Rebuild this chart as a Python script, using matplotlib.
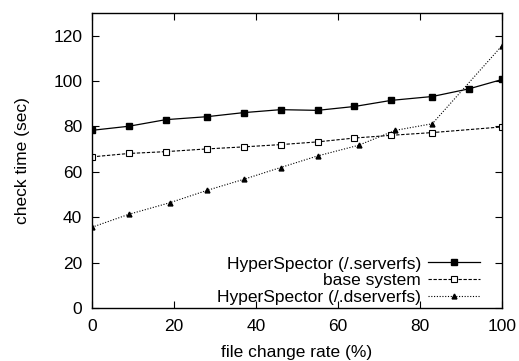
import matplotlib
matplotlib.use("Agg")
import matplotlib.pyplot as plt

# ── data ──
X_SERVERFS	= [0, 9, 18, 28, 37, 46, 55, 64, 73, 83, 92, 100]
Y_SERVERFS	= [78.3, 80.1, 83.0, 84.3, 86.1, 87.4, 87.1, 88.8, 91.5, 93.2, 96.6, 100.7]

X_BASE		= [0, 9, 18, 28, 37, 46, 55, 64, 73, 83, 100]
Y_BASE		= [66.6, 68.1, 68.9, 70.1, 71.0, 72.0, 73.2, 74.9, 76.1, 77.3, 79.8]

X_DSERVERFS	= [0, 9, 19, 28, 37, 46, 55, 65, 74, 83, 100]
Y_DSERVERFS	= [35.6, 41.3, 46.4, 51.8, 56.7, 61.9, 67.0, 71.7, 78.3, 81.2, 115.6]

LABELS		= ["HyperSpector (/.serverfs)", "base system", "HyperSpector (/.dserverfs)"]

plt.rcParams['font.family'] = ['Liberation Sans', 'DejaVu Sans']

fig = plt.figure(figsize=(5.19, 3.61), dpi=100)
ax = fig.add_axes([92/519, 1 - 308/361, 410/519, 295/361])

ax.plot(X_SERVERFS, Y_SERVERFS, color="black", linestyle="-", linewidth=0.9,
        marker="s", markersize=5, markerfacecolor="black", label=LABELS[0])
ax.plot(X_BASE, Y_BASE, color="black", linestyle=(0, (3, 1.5)), linewidth=0.8,
        marker="s", markersize=5, markerfacecolor="white", markeredgewidth=0.8, label=LABELS[1])
ax.plot(X_DSERVERFS, Y_DSERVERFS, color="black", linestyle=(0, (1, 1.5)), linewidth=0.8,
        marker="^", markersize=3.5, markerfacecolor="black", label=LABELS[2])

ax.set_xlim(0, 100)
ax.set_ylim(0, 130)
ax.set_xticks(range(0, 101, 20))
ax.set_yticks(range(0, 121, 20))
ax.tick_params(direction="in", top=True, right=True, length=5, width=0.8,
               labelsize=12.5)
ax.tick_params(axis="x", pad=8)
ax.tick_params(axis="y", pad=7)
for s in ax.spines.values():
	s.set_linewidth(1.0)

ax.set_xlabel("file change rate (%)", fontsize=12.5, labelpad=8)
ax.set_ylabel("check time (sec)", fontsize=12.5, labelpad=17)

ax.legend(loc="lower right", bbox_to_anchor=(0.946, 0.009), frameon=False,
          markerfirst=False, fontsize=12.5, handlelength=3.0, handletextpad=0.4,
          labelspacing=0.1, borderpad=0, borderaxespad=0)

fig.savefig("out.png", dpi=100)
